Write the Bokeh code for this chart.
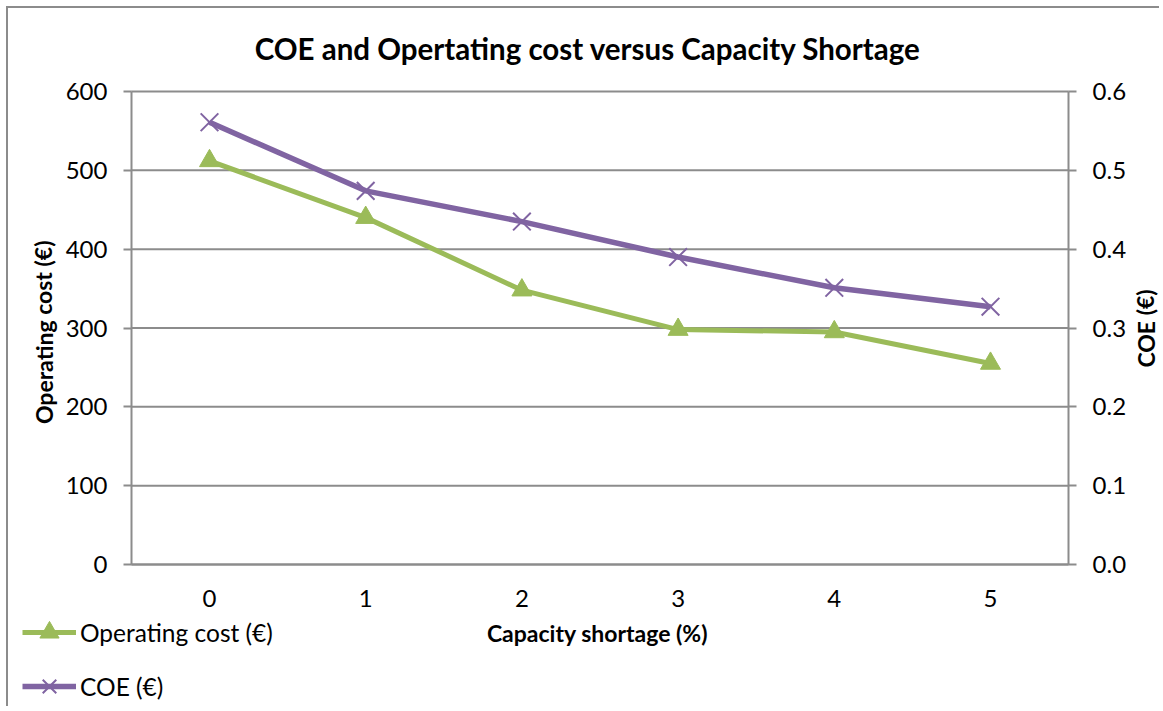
from bokeh.plotting import figure
from bokeh.models import (LinearAxis, Range1d, Legend, LegendItem, FixedTicker,
                          NumeralTickFormatter, Label)
from bokeh.embed import file_html
from bokeh.resources import INLINE

# ---------------- data ----------------
shortage = [0, 1, 2, 3, 4, 5]
operating_cost = [512, 440, 348, 298, 295, 255]
coe = [0.561, 0.474, 0.435, 0.390, 0.351, 0.327]
left_ticks = [0, 100, 200, 300, 400, 500, 600]
right_ticks = [0.0, 0.1, 0.2, 0.3, 0.4, 0.5, 0.6]

title_text = "COE and Opertating  cost versus Capacity Shortage"
x_label = "Capacity shortage (%)"
left_label = "Operating cost  (€)"
right_label = "COE (€)"
series_names = ["Operating cost (€)", "COE (€)"]

# ---------------- layout / style ----------------
FONT = "Lato"
GRID = "#8c8c8c"
GREEN = "#9BBB59"
PURPLE = "#8064A2"

W, H = 1153, 700            # canvas (page offset 8,8 by css margin+border)
X0_PX, X5_PX = 201, 982     # canvas px of category 0 and 5
Y600_PX, Y0_PX = 83, 556    # canvas px of 600 and 0 (from top)
x_bounds = (-0.5, 5.5)
y_bounds = (0, 600)

ppx = (X5_PX - X0_PX) / 5.0
x_start = -X0_PX / ppx
x_end = x_start + W / ppx
ppy = (Y0_PX - Y600_PX) / 600.0
y_end = 600 + Y600_PX / ppy
y_start = -(H - Y0_PX) / ppy

p = figure(width=W, height=H, output_backend="svg", toolbar_location=None,
           title=None, x_range=Range1d(x_start, x_end), y_range=Range1d(y_start, y_end),
           min_border=0, min_border_left=0, min_border_right=0,
           min_border_top=0, min_border_bottom=0)
p.styles = {"margin": "6px 0 0 6px",
            "border-left": "2px solid #8c8c8c", "border-top": "2px solid #8c8c8c"}
p.outline_line_color = None
p.xgrid.grid_line_color = None
p.ygrid.grid_line_color = None
p.extra_y_ranges = {"coe": Range1d(y_start / 1000.0, y_end / 1000.0)}

# gridlines (horizontal, between the two value axes)
p.segment(x0=[x_bounds[0]] * len(left_ticks), x1=[x_bounds[1]] * len(left_ticks),
          y0=left_ticks, y1=left_ticks, line_color=GRID, line_width=2)

def style_value_axis(ax):
    ax.major_label_text_font = FONT
    ax.major_label_text_font_size = "24px"
    ax.major_label_text_color = "black"
    ax.major_label_standoff = 16
    ax.axis_line_color = GRID
    ax.axis_line_width = 2
    ax.major_tick_line_color = GRID
    ax.major_tick_line_width = 2
    ax.major_tick_out = 8
    ax.major_tick_in = 0
    ax.minor_tick_line_color = None

# left axis
ya = p.yaxis[0]
ya.ticker = FixedTicker(ticks=left_ticks)
ya.fixed_location = x_bounds[0]
ya.bounds = y_bounds
style_value_axis(ya)

# right axis
ra = LinearAxis(y_range_name="coe", ticker=FixedTicker(ticks=right_ticks),
                formatter=NumeralTickFormatter(format="0.0"))
ra.fixed_location = x_bounds[1]
ra.bounds = (right_ticks[0], right_ticks[-1])
style_value_axis(ra)
p.add_layout(ra, "right")

# x axis
xa = p.xaxis[0]
xa.ticker = FixedTicker(ticks=shortage)
xa.fixed_location = 0
xa.bounds = x_bounds
xa.major_label_text_font = FONT
xa.major_label_text_font_size = "24px"
xa.major_label_text_color = "black"
xa.major_label_standoff = 19
xa.axis_line_color = GRID
xa.axis_line_width = 2
xa.major_tick_line_color = None
xa.minor_tick_line_color = None

# series
l1 = p.line(shortage, operating_cost, line_color=GREEN, line_width=5)
s1 = p.scatter(shortage, operating_cost, marker="triangle", size=20,
               fill_color=GREEN, line_color=GREEN)
l2 = p.line(shortage, coe, line_color=PURPLE, line_width=5.5, y_range_name="coe")
s2 = p.scatter(shortage, coe, marker="x", size=25, line_color=PURPLE,
               line_width=2, y_range_name="coe")

# texts (screen units, from canvas bottom-left)
def add_text(txt, x, y, size, bold=True, angle=0.0):
    p.add_layout(Label(x=x, y=y, x_units="screen", y_units="screen", text=txt,
                       text_font=FONT, text_font_size=size,
                       text_font_style="bold" if bold else "normal",
                       text_color="black", text_align="center",
                       text_baseline="middle", angle=angle))

add_text(title_text, 583, H - 40, "29.5px")
add_text(x_label, 589, H - 624, "23px")
add_text(left_label, 35, H - 321, "23px", angle=1.5708)
add_text(right_label, 1137, H - 320, "23px", angle=1.5708)

legend = Legend(items=[LegendItem(label=series_names[0], renderers=[l1, s1]),
                       LegendItem(label=series_names[1], renderers=[l2, s2])],
                location=(14, -2), orientation="vertical",
                label_text_font=FONT, label_text_font_size="24.5px",
                label_text_color="black",
                glyph_width=54, glyph_height=48, label_height=48,
                spacing=6, padding=0, margin=0, label_standoff=4,
                border_line_color=None, background_fill_alpha=0)
p.add_layout(legend, "center")

open("out.html", "w").write(file_html(p, INLINE))
